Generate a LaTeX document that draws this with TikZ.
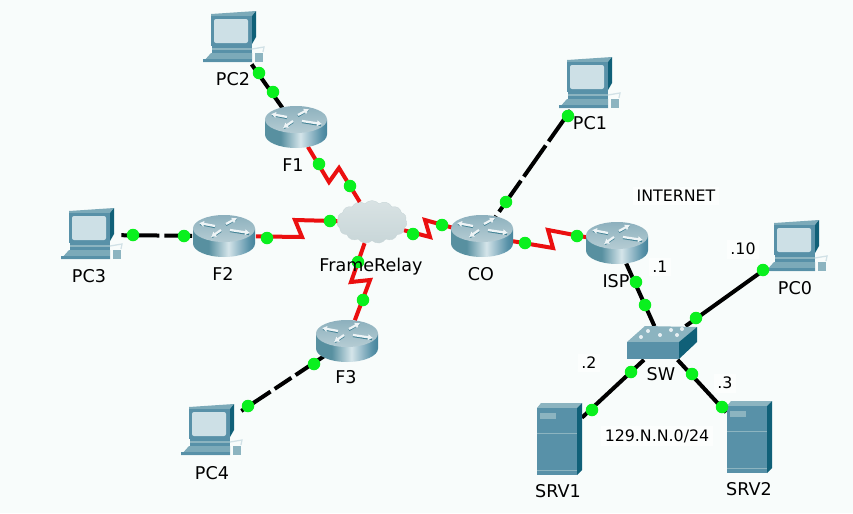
\documentclass[tikz,border=0pt]{standalone}
\usepackage{fontspec}
\setmainfont{DejaVu Sans}
\usetikzlibrary{arrows.meta,shapes.geometric,shapes.symbols}
\definecolor{pagetint}{RGB}{248,252,251}
\definecolor{linkred}{RGB}{235,15,15}
\definecolor{dotgreen}{RGB}{10,240,30}
\definecolor{tealface}{RGB}{88,145,168}
\definecolor{tealdark}{RGB}{16,96,120}
\definecolor{teallight}{RGB}{140,180,192}
\definecolor{routertop}{RGB}{150,182,193}
\definecolor{screenblue}{RGB}{205,224,230}
\definecolor{cloudgray}{RGB}{200,214,216}
\pgfdeclarehorizontalshading{routerside}{100bp}{
  color(0bp)=(tealdark!70!white); color(25bp)=(tealdark!70!white);
  color(41bp)=(screenblue!85!white); color(58bp)=(tealface); color(75bp)=(tealdark)}

\begin{document}
\begin{tikzpicture}[
  x=0.2mm, y=-0.2mm,
  font=\fontsize{10}{12}\selectfont,
  >=Latex,
  copper/.style={draw=black, line width=0.8mm},
  crossover/.style={copper, dash pattern=on 7.6mm off 1mm},
  serial/.style={draw=linkred, line width=0.8mm, line join=miter},
  linkdot/.style={circle, fill=dotgreen, inner sep=0pt, minimum size=2.5mm},
  routerbox/.style={ellipse, inner sep=0pt, minimum width=12.6mm, minimum height=8.4mm},
  pcbox/.style={rectangle, inner sep=0pt, minimum width=12mm, minimum height=10.4mm},
  serverbox/.style={rectangle, inner sep=0pt, minimum width=9mm, minimum height=14.4mm},
  switchbox/.style={rectangle, inner sep=0pt, minimum width=14mm, minimum height=6.6mm},
  cloudbox/.style={cloud, cloud puffs=15, cloud puff arc=100, aspect=1.7, inner sep=0pt,
    minimum width=14mm, minimum height=8.6mm, draw=cloudgray, line width=0.2pt,
    top color=cloudgray!70!white, bottom color=cloudgray},
  devlabel/.style={inner sep=0.5pt, text=black},
  addrlabel/.style={inner sep=2pt, fill=white!60!pagetint, text=black, font=\fontsize{9}{11}\selectfont},
  routerarrow/.style={draw=white!85!teallight, line width=0.45mm, -{Latex[length=1mm,width=1.3mm]}},
  routershadow/.style={draw=tealdark!60!teallight, line width=0.45mm, shift={(0,1)}},
  router/.pic={
    \shade[shading=routerside] (-31,-7.5) -- (-31,7.5)
      arc[start angle=180, end angle=360, x radius=6.2mm, y radius=2.7mm]
      -- (31,-7.5) -- cycle;
    \shade[top color=routertop!85!tealface, bottom color=routertop!70!white]
      (0,-7.5) ellipse [x radius=6.2mm, y radius=2.7mm];
    \draw[routershadow] (-9,-10) -- (-24,-13);
    \draw[routershadow] (2,-12) -- (12,-18);
    \draw[routershadow] (6,-6) -- (25,-3);
    \draw[routershadow] (-3,-6) -- (-12,0);
    \draw[routerarrow] (-9,-10) -- (-25,-13);
    \draw[routerarrow] (2,-12) -- (13,-18);
    \draw[routerarrow] (6,-6) -- (26,-3);
    \draw[routerarrow] (-3,-6) -- (-13,1);
  },
  pcicon/.pic={
    \draw[white!60!teallight, line width=0.25mm] (19,11) -- (31,9) -- (30,14);
    \fill[teallight!70!tealface] (-30,24) -- (-22,15) -- (19,15) -- (19,24) -- cycle;
    \fill[tealface] (-30,21) -- (19,21) -- (19,24) -- (-30,24) -- cycle;
    \fill[tealface] (-21,6) rectangle (19,15);
    \fill[teallight] (-21,10) rectangle (19,12);
    \fill[teallight] (22,15) rectangle (30,24);
    \fill[teallight!70!tealface] (-22,-24) -- (23,-27) -- (19,-22) -- (-22,-22) -- cycle;
    \fill[tealface] (-22,-22) rectangle (19,8);
    \fill[tealdark] (19,-22) -- (23,-27) -- (23,-1) -- (19,6) -- cycle;
    \fill[screenblue, rounded corners=0.4mm] (-19,-19) rectangle (15,5);
  },
  servericon/.pic={
    \fill[teallight] (-22,-31) -- (-18,-36) -- (23,-36) -- (18,-31) -- cycle;
    \fill[tealface] (-22,-31) rectangle (18,36);
    \fill[tealdark] (18,-31) -- (23,-36) -- (23,31) -- (18,36) -- cycle;
    \fill[teallight] (-19,-26) rectangle (-3,-20);
    \draw[teallight, line width=0.2mm] (-22,-6) -- (18,-6);
    \draw[teallight, line width=0.2mm] (-22,31) -- (18,31);
  },
  switchicon/.pic={
    \fill[teallight] (-35,-1) -- (-17,-17) -- (35,-16) -- (17,-1) -- cycle;
    \fill[tealface] (-35,-1) rectangle (17,16);
    \fill[tealdark] (17,-1) -- (35,-16) -- (35,-1) -- (17,16) -- cycle;
    \fill[white!80!teallight] (-14,-12) circle (0.4mm) (9,-13) circle (0.4mm) (20,-14) circle (0.4mm)
      (-21,-6) circle (0.4mm) (-2,-8) circle (0.4mm) (15,-8) circle (0.4mm);
  }
]

\fill[pagetint] (0,0) rectangle (853,513);

% Devices.
\node[routerbox] (F1) at (296,127) {};
\node[routerbox] (F2) at (224,236) {};
\node[routerbox] (F3) at (347,341) {};
\node[routerbox] (CO) at (482,236) {};
\node[routerbox] (ISP) at (617,243) {};
\node[pcbox] (PC0) at (796,247) {};
\node[pcbox] (PC1) at (589,84) {};
\node[pcbox] (PC2) at (233,38) {};
\node[pcbox] (PC3) at (91,235) {};
\node[pcbox] (PC4) at (211,431) {};
\node[serverbox] (SRV1) at (559,439) {};
\node[serverbox] (SRV2) at (749,437) {};
\node[switchbox] (SW) at (662,343) {};
\node[cloudbox] (FrameRelay) at (372,222) {};

% Bends of the serial links.
\coordinate (f1a) at (329,182);
\coordinate (f1b) at (339,168);
\coordinate (f2a) at (302,237);
\coordinate (f2b) at (295,220);
\coordinate (f3a) at (351,282);
\coordinate (f3b) at (370,280);
\coordinate (coa) at (430,237);
\coordinate (cob) at (425,220);
\coordinate (ispa) at (553,248);
\coordinate (ispb) at (548,230);

% Links.
\draw[serial] (F1) -- (f1a) -- (f1b) -- (FrameRelay);
\draw[serial] (F2) -- (f2a) -- (f2b) -- (FrameRelay);
\draw[serial] (FrameRelay) -- (f3a) -- (f3b) -- (F3);
\draw[serial] (FrameRelay) -- (coa) -- (cob) -- (CO);
\draw[serial] (CO) -- (ispa) -- (ispb) -- (ISP);
\draw[copper] (PC2) -- (F1);
\draw[crossover] (PC3) -- (F2);
\draw[crossover, dash pattern=on 7mm off 1mm on 4mm off 1mm] (PC4) -- (F3);
\draw[crossover] (PC1) -- (CO);
\draw[copper] (ISP) -- (SW);
\draw[copper] (SW) -- (PC0);
\draw[copper] (SW) -- (SRV1);
\draw[copper] (SW) -- (SRV2);

% Icons over the link ends.
\pic at (F1) {router};
\pic at (F2) {router};
\pic at (F3) {router};
\pic at (CO) {router};
\pic at (ISP) {router};
\pic at (PC0) {pcicon};
\pic at (PC1) {pcicon};
\pic at (PC2) {pcicon};
\pic at (PC3) {pcicon};
\pic at (PC4) {pcicon};
\pic at (SRV1) {servericon};
\pic at (SRV2) {servericon};
\pic at (SW) {switchicon};

% Link lights.
\node[linkdot] (d1) at (259,73) {};
\node[linkdot] (d2) at (273,92) {};
\node[linkdot] (d3) at (319,164) {};
\node[linkdot] (d4) at (350,186) {};
\node[linkdot] (d5) at (267,238) {};
\node[linkdot] (d6) at (330,221) {};
\node[linkdot] (d7) at (133,235) {};
\node[linkdot] (d8) at (184,236) {};
\node[linkdot] (d9) at (413,234) {};
\node[linkdot] (d10) at (442,225) {};
\node[linkdot] (d11) at (525,243) {};
\node[linkdot] (d12) at (577,236) {};
\node[linkdot] (d13) at (506,202) {};
\node[linkdot] (d14) at (568,116) {};
\node[linkdot] (d15) at (358,262) {};
\node[linkdot] (d16) at (363,300) {};
\node[linkdot] (d17) at (314,364) {};
\node[linkdot] (d18) at (248,406) {};
\node[linkdot] (d19) at (636,282) {};
\node[linkdot] (d20) at (645,305) {};
\node[linkdot] (d21) at (696,318) {};
\node[linkdot] (d22) at (763,270) {};
\node[linkdot] (d23) at (631,372) {};
\node[linkdot] (d24) at (592,410) {};
\node[linkdot] (d25) at (692,374) {};
\node[linkdot] (d26) at (722,407) {};

% Names.
\node[devlabel] (lPC2) at (233,79) {PC2};
\node[devlabel] (lF1) at (293,165) {F1};
\node[devlabel] (lF2) at (223,274) {F2};
\node[devlabel] (lF3) at (346,377) {F3};
\node[devlabel] (lFR) at (371,267) {FrameRelay};
\node[devlabel] (lCO) at (481,274) {CO};
\node[devlabel] (lISP) at (616,281) {ISP};
\node[devlabel] (lPC1) at (590,123) {PC1};
\node[devlabel] (lPC3) at (89,276) {PC3};
\node[devlabel] (lPC4) at (212,473) {PC4};
\node[devlabel] (lPC0) at (795,288) {PC0};
\node[devlabel] (lSW) at (661,374) {SW};
\node[devlabel] (lSRV1) at (558,491) {SRV1};
\node[devlabel] (lSRV2) at (749,489) {SRV2};

% Addressing.
\node[addrlabel] (lnet) at (676,196) {INTERNET};
\node[addrlabel] (lisp) at (660,267) {.1};
\node[addrlabel] (lpc) at (743,249) {.10};
\node[addrlabel] (lsa) at (589,363) {.2};
\node[addrlabel] (lsb) at (725,383) {.3};
\node[addrlabel] (lsub) at (657,436) {129.N.N.0/24};

\end{tikzpicture}
\end{document}
